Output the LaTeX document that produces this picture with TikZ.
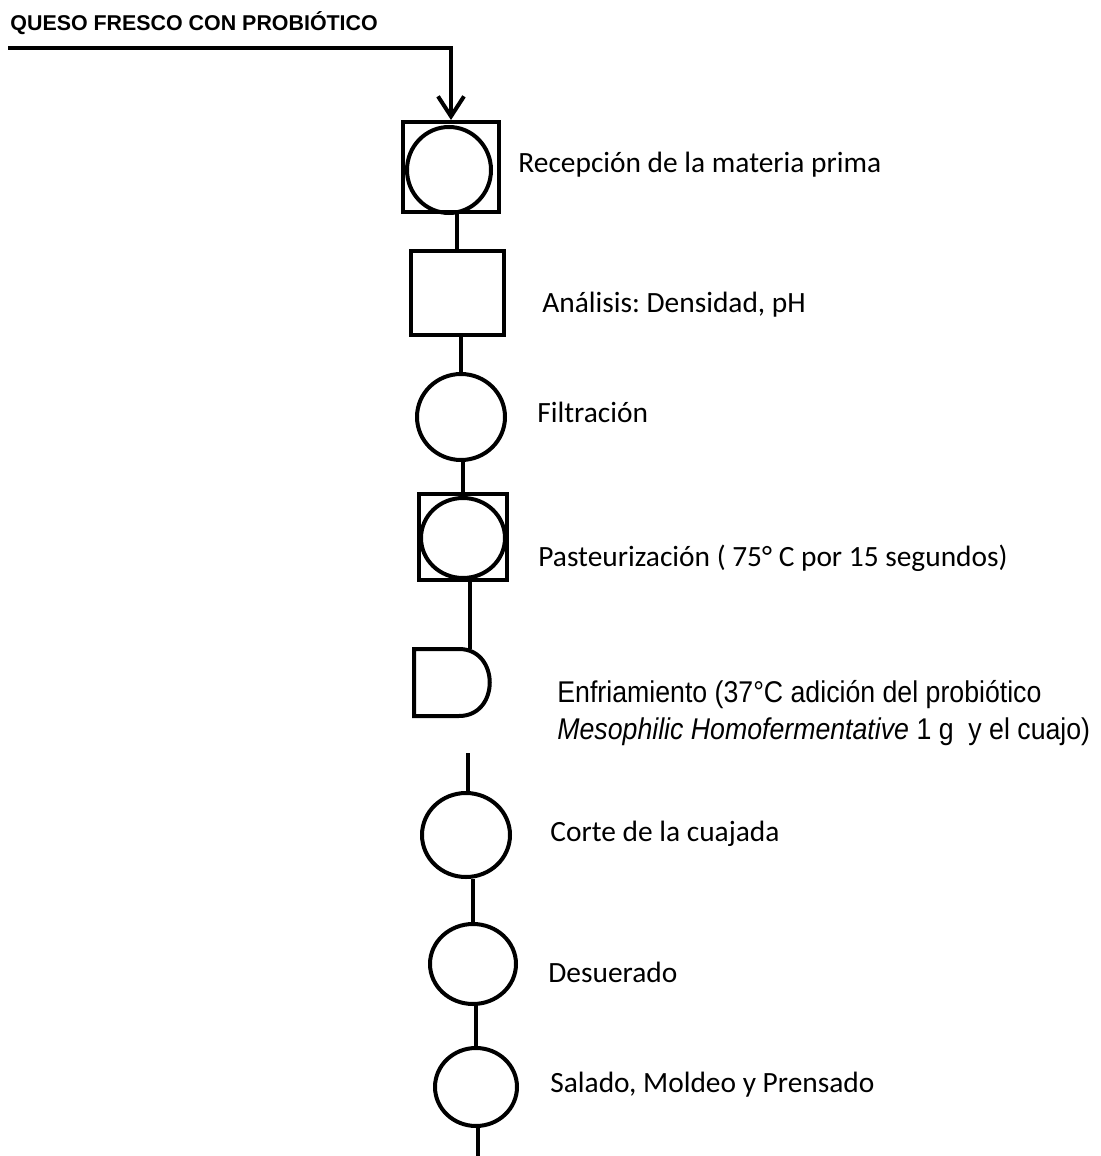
\documentclass[tikz,border=0pt]{standalone}
\usepackage{fontspec}
\usepackage{xcolor}
\usepackage{tikz}
\usetikzlibrary{arrows.meta,shapes.geometric}

\setmainfont{Carlito}
\newfontfamily\titlefont{Liberation Sans}
\newfontfamily\narrowfont{Liberation Sans}[FakeStretch=0.89]
\frenchspacing

\tikzset{
  link/.style={line width=2pt},
  opbox/.style={draw, line width=2pt, rectangle, inner sep=0pt},
  opcirc/.style={draw, line width=2pt, ellipse, inner sep=0pt},
  steplabel/.style={anchor=base west, inner sep=0pt, font=\fontsize{14.7}{18}\selectfont}
}

\begin{document}
\begin{tikzpicture}[x=0.5pt, y=-0.5pt]
            \useasboundingbox (0,0) rectangle (1100,1156);

            \node[anchor=base west, inner sep=0pt, font=\titlefont\bfseries\fontsize{10.7}{12}\selectfont] (title) at (10,31) {QUESO FRESCO CON PROBI\'OTICO};
            \coordinate (in) at (8,48);

            \node[opbox, minimum width=48pt, minimum height=45pt] (rec) at (451,167) {};
            \node[opcirc, minimum width=42pt, minimum height=43pt] (recc) at (449,170) {};
            \node[steplabel] (lrec) at (518,172) {Recepción de la materia prima};

            \node[opbox, minimum width=46.5pt, minimum height=42pt] (ana) at (457,293) {};
            \node[steplabel] (lana) at (542,312) {Análisis: Densidad, pH};

            \node[opcirc, minimum width=44pt, minimum height=43pt] (fil) at (461,417) {};
            \node[steplabel] (lfil) at (537,422) {Filtración};

            \node[opbox, minimum width=44pt, minimum height=43pt] (pas) at (463,537) {};
            \node[opcirc, minimum width=42pt, minimum height=40pt] (pasc) at (463,538) {};
            \node[steplabel] (lpas) at (538,566) {Pasteurización ( 75° C por 15 segundos)};

            % demora (enfriamiento)
            \draw[link] (414,649) -- (459,649) .. controls (500,649) and (500,716) .. (459,716) -- (414,716) -- cycle;
            \coordinate (enftop) at (470,649);
            \node[anchor=base west, inner sep=0pt, align=left, font=\narrowfont\fontsize{15}{18.5}\selectfont] (lenf) at (557,739)
              {Enfriamiento (37°C adición del probiótico\\\textit{Mesophilic Homofermentative} 1 g\ \ y el cuajo)};
            \coordinate (enfout) at (468,753);

            \node[opcirc, minimum width=44pt, minimum height=42pt] (cor) at (466,835) {};
            \node[steplabel] (lcor) at (550,841) {Corte de la cuajada};

            \node[opcirc, minimum width=43pt, minimum height=40pt] (des) at (473,964) {};
            \node[steplabel] (ldes) at (548,982) {Desuerado};

            \node[opcirc, minimum width=41pt, minimum height=39pt] (sal) at (476,1087) {};
            \node[steplabel] (lsal) at (550,1092) {Salado, Moldeo y Prensado};
            \coordinate (out) at (478,1156);

            \draw[link, -{Straight Barb[length=10pt, width=13pt, line width=2pt]}] (in) -| (rec.north); % entrada
            \draw[link] (ana.north) -- (ana.north |- rec.south); % rec-ana
            \draw[link] (fil.north) -- (fil.north |- ana.south); % ana-fil
            \draw[link] (pas.north) -- (pas.north |- fil.south); % fil-pas
            \draw[link] (enftop) -- (enftop |- pas.south); % pas-enf
            \draw[link] (enfout) -- (enfout |- cor.north); % enf-cor
            \draw[link] (des.north) -- (des.north |- cor.south); % cor-des
            \draw[link] (sal.north) -- (sal.north |- des.south); % des-sal
            \draw[link] (out) -- (out |- sal.south); % sal-fin
        \end{tikzpicture}
\end{document}
